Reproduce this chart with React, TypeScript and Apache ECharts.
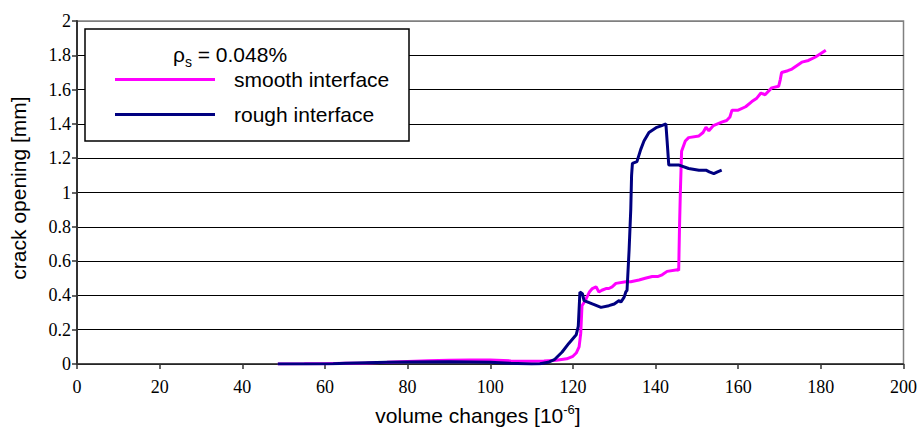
import React, { useEffect, useRef } from "react";
import * as echarts from "echarts";

const smoothX = [48.6, 55, 60, 65, 70, 75, 80, 85, 90, 95, 100, 105, 110, 113, 116, 118.5, 120, 120.8, 121.5, 121.9, 122.2, 123, 124, 124.7, 125.6, 126.3, 127, 128, 128.7, 129.5, 130.4, 132.8, 134, 136, 137.5, 139.2, 140.5, 141.6, 142.8, 145.3, 145.6, 145.8, 146, 146.3, 147.2, 148, 150.5, 151.5, 152.2, 152.9, 154, 156, 157.2, 158, 158.5, 160, 161.8, 163.3, 164.5, 165.5, 166.5, 168.1, 169.8, 170.2, 170.5, 172, 173, 175.4, 177, 178.7, 180, 181.2];
const smoothY = [0, 0.001, 0.002, 0.004, 0.006, 0.01, 0.015, 0.019, 0.022, 0.024, 0.023, 0.018, 0.016, 0.018, 0.022, 0.03, 0.045, 0.064, 0.1, 0.18, 0.34, 0.37, 0.42, 0.44, 0.45, 0.42, 0.43, 0.44, 0.44, 0.45, 0.47, 0.48, 0.48, 0.49, 0.5, 0.51, 0.51, 0.52, 0.54, 0.55, 0.545, 0.8, 1.0, 1.24, 1.3, 1.32, 1.33, 1.35, 1.38, 1.36, 1.39, 1.41, 1.42, 1.44, 1.48, 1.48, 1.5, 1.53, 1.55, 1.58, 1.57, 1.61, 1.62, 1.66, 1.7, 1.71, 1.72, 1.76, 1.77, 1.79, 1.81, 1.83];

const roughX = [48.6, 55, 62, 65, 70, 75, 80, 90, 100, 105, 110, 112, 114, 115.5, 117.4, 119, 120.8, 121.3, 121.7, 122.3, 122.7, 124.7, 126.8, 128.7, 130, 131.2, 131.6, 132.4, 132.8, 133.1, 133.6, 134, 134.2, 134.4, 135.5, 136.4, 137.2, 138.4, 140.3, 141.5, 142.5, 142.8, 143.2, 144.9, 145.7, 148, 150.5, 152.2, 153, 154.1, 155, 156];
const roughY = [0, 0, 0.001, 0.004, 0.008, 0.01, 0.012, 0.013, 0.01, 0.004, 0, 0.002, 0.01, 0.025, 0.07, 0.12, 0.17, 0.22, 0.42, 0.41, 0.37, 0.35, 0.33, 0.34, 0.35, 0.37, 0.36, 0.39, 0.42, 0.43, 0.665, 0.9, 1.1, 1.17, 1.18, 1.25, 1.3, 1.35, 1.38, 1.39, 1.4, 1.3, 1.16, 1.16, 1.16, 1.14, 1.13, 1.13, 1.12, 1.11, 1.12, 1.13];

const seriesNames = ["smooth interface", "rough interface"];
const seriesColors = ["#FF00FF", "#000080"];

const xMin = 0;
const xMax = 200;
const xInterval = 20;
const yMin = 0;
const yMax = 2;
const yInterval = 0.2;

const SANS = "Liberation Sans";
const SERIF = "Times New Roman, Liberation Serif, serif";

function zip(xs: number[], ys: number[]) {
  return xs.map((x, i) => [x, ys[i]]);
}

export default function App() {
  const ref = useRef<HTMLDivElement>(null);
  useEffect(() => {
    if (!ref.current) return;
    const chart = echarts.init(ref.current, null, { renderer: "svg" });
    const nLines = Math.round((yMax - yMin) / yInterval) + 1;
    const splitColors = Array.from({ length: nLines }, (_, i) => (i === nLines - 1 ? "#808080" : "#000000"));
    chart.setOption({
      animation: false,
      backgroundColor: "#ffffff",
      grid: {
        left: 77,
        right: 15,
        top: 21,
        bottom: 63,
        show: true,
        borderColor: "#808080",
        borderWidth: 1.5,
        backgroundColor: "transparent",
      },
      xAxis: {
        type: "value",
        min: xMin,
        max: xMax,
        interval: xInterval,
        axisLine: { show: true, onZero: false, lineStyle: { color: "#333333", width: 1.5 } },
        axisTick: { show: true, inside: false, length: 5, lineStyle: { color: "#333333", width: 1.5 } },
        axisLabel: { color: "#000", fontFamily: SERIF, fontSize: 18, margin: 14 },
        splitLine: { show: false },
      },
      yAxis: {
        type: "value",
        min: yMin,
        max: yMax,
        interval: yInterval,
        axisLine: { show: true, onZero: false, lineStyle: { color: "#333333", width: 2 } },
        axisTick: { show: true, inside: false, length: 5, lineStyle: { color: "#333333", width: 1.5 } },
        axisLabel: { color: "#000", fontFamily: SERIF, fontSize: 18, margin: 6 },
        splitLine: { show: true, lineStyle: { color: splitColors, width: 1 } },
      },
      legend: {
        orient: "vertical",
        left: 110,
        top: 64,
        itemGap: 14,
        itemWidth: 100,
        itemHeight: 3,
        z: 6,
        data: seriesNames.map((n) => ({ name: n, icon: "rect" })),
        textStyle: { fontFamily: SANS, fontSize: 21, color: "#000", padding: [0, 0, 6, 14] },
      },
      graphic: [
        {
          type: "rect",
          z: 4,
          shape: { x: 85, y: 29, width: 324, height: 112 },
          style: { fill: "#ffffff", stroke: "#000000", lineWidth: 1.5 },
        },
        {
          type: "text",
          z: 6,
          x: 230,
          y: 54,
          style: {
            text: "{a|ρ}{s|s}{a| = 0.048%}",
            align: "center",
            verticalAlign: "middle",
            fill: "#000",
            rich: {
              a: { fontFamily: SANS, fontSize: 21, fill: "#000", lineHeight: 24 },
              s: { fontFamily: SANS, fontSize: 14, fill: "#000", verticalAlign: "bottom", lineHeight: 30 },
            },
          },
        },
        {
          type: "text",
          z: 6,
          x: 18,
          y: 188,
          rotation: Math.PI / 2,
          style: {
            text: "crack opening [mm]",
            align: "center",
            verticalAlign: "middle",
            fontFamily: SANS,
            fontSize: 21,
            fill: "#000",
          },
        },
        {
          type: "text",
          z: 6,
          x: 478,
          y: 415,
          style: {
            text: "{a|volume changes [10}{b|-6}{a|]}",
            align: "center",
            verticalAlign: "middle",
            fill: "#000",
            rich: {
              a: { fontFamily: SANS, fontSize: 21, fill: "#000", lineHeight: 24 },
              b: { fontFamily: SANS, fontSize: 13, fill: "#000", verticalAlign: "top", lineHeight: 14 },
            },
          },
        },
      ],
      series: [
        {
          name: seriesNames[0],
          type: "line",
          data: zip(smoothX, smoothY),
          showSymbol: false,
          symbol: "none",
          color: seriesColors[0],
          lineStyle: { color: seriesColors[0], width: 3 },
          z: 2,
        },
        {
          name: seriesNames[1],
          type: "line",
          data: zip(roughX, roughY),
          showSymbol: false,
          symbol: "none",
          color: seriesColors[1],
          lineStyle: { color: seriesColors[1], width: 3 },
          z: 3,
        },
      ],
    });
    return () => chart.dispose();
  }, []);
  return <div ref={ref} style={{ width: 920, height: 427, position: "absolute", left: 0, top: 0 }} />;
}
